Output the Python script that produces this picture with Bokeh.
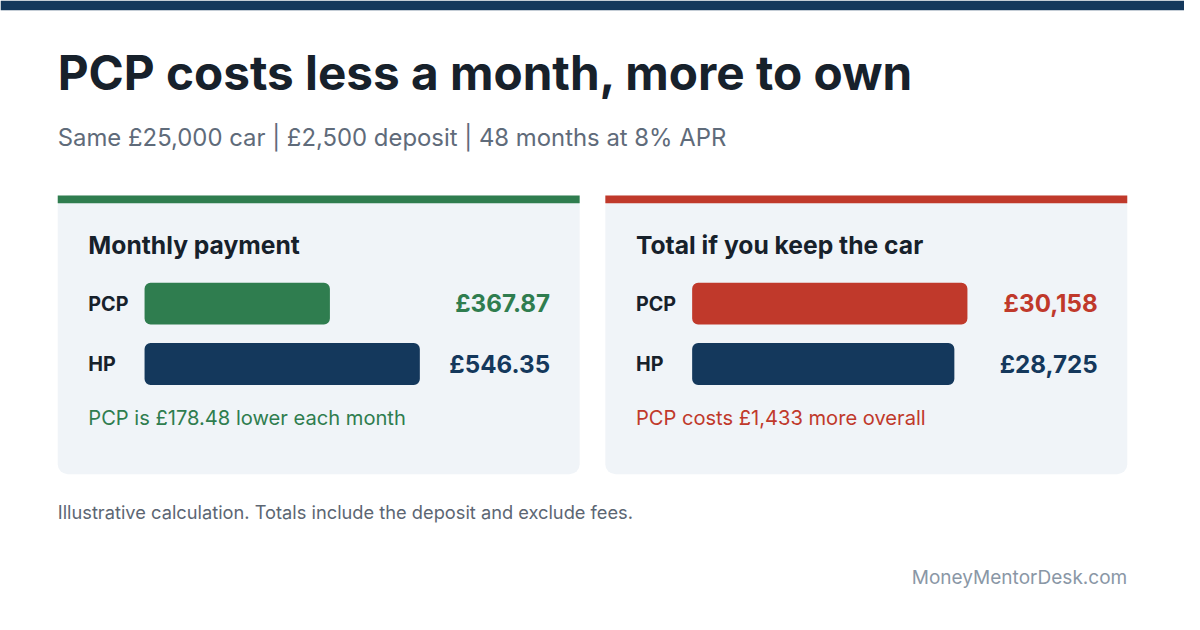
from bokeh.plotting import figure
from bokeh.models import Range1d
from bokeh.core.properties import value
from bokeh.embed import file_html
from bokeh.resources import INLINE

# ---- data ----
title = "PCP costs less a month, more to own"
subtitle = "Same £25,000 car | £2,500 deposit | 48 months at 8% APR"
panel_titles = ["Monthly payment", "Total if you keep the car"]
categories = ["PCP", "HP"]
monthly = [367.87, 546.35]
totals = [30158, 28725]
monthly_labels = ["£367.87", "£546.35"]
total_labels = ["£30,158", "£28,725"]
notes = ["PCP is £178.48 lower each month", "PCP costs £1,433 more overall"]
footnote = "Illustrative calculation. Totals include the deposit and exclude fees."
brand = "MoneyMentorDesk.com"

# ---- style ----
FONT = value("Inter")
NAVY = "#14385c"
GREEN = "#2f7d4f"
RED = "#c0392b"
PANEL_BG = "#f0f4f8"
INK = "#17212b"
SUB = "#5f6b7a"
FOOT = "#5c6673"
BRAND = "#8a97a6"

W, H = 1184, 614
S = W / 1200.0


def fs(px):
    return "%.2fpx" % (px * S)


p = figure(width=W, height=H, output_backend="svg", toolbar_location=None,
           x_range=Range1d(0, 1200), y_range=Range1d(630, 0),
           min_border=0, outline_line_color=None, background_fill_color="white",
           border_fill_color="white")
p.axis.visible = False
p.grid.visible = False

# top band
p.quad(left=0, right=1200, top=0, bottom=10, fill_color=NAVY, line_color=None)

# title + subtitle
p.text(x=[58], y=[74], text=[title], text_font=FONT, text_font_size=fs(48.3),
       text_font_style="bold", text_color=INK, text_baseline="middle")
p.text(x=[58], y=[141], text=[subtitle], text_font=FONT, text_font_size=fs(24.2),
       text_color=SUB, text_baseline="middle")

# panel bar scales via extra ranges (value 0 at px bar_x0, max value at bar_x0+279)
BAR_W = 279
panels = [
    dict(x0=58, x1=587, accent=GREEN, vals=monthly, labels=monthly_labels,
         colors=[GREEN, NAVY], note_color=GREEN, name="m"),
    dict(x0=613, x1=1142, accent=RED, vals=totals, labels=total_labels,
         colors=[RED, NAVY], note_color=RED, name="t"),
]
row_y = [311, 373]
for i, pn in enumerate(panels):
    x0, x1 = pn["x0"], pn["x1"]
    p.quad(left=x0, right=x1, top=200, bottom=486, fill_color=PANEL_BG,
           line_color=None, border_radius=10)
    p.quad(left=x0, right=x1, top=200, bottom=208, fill_color=pn["accent"],
           line_color=None)
    tx = x0 + 31
    p.text(x=[tx], y=[251], text=[panel_titles[i]], text_font=FONT,
           text_font_size=fs(25), text_font_style="bold", text_color=INK,
           text_baseline="middle")
    bx0 = x0 + 88
    vmax = max(pn["vals"])
    k = BAR_W / vmax
    rname = pn["name"]
    p.extra_x_ranges[rname] = Range1d((0 - bx0) / k, (1200 - bx0) / k)
    p.hbar(y=row_y, left=0, right=pn["vals"], height=43, fill_color=pn["colors"],
           line_color=None, border_radius=6, x_range_name=rname)
    p.text(x=[tx, tx], y=row_y, text=categories, text_font=FONT,
           text_font_size=fs(20), text_font_style="bold", text_color=INK,
           text_baseline="middle")
    p.text(x=[x1 - 30, x1 - 30], y=row_y, text=pn["labels"], text_font=FONT,
           text_font_size=fs(24.5), text_font_style="bold",
           text_color=[pn["colors"][0], NAVY], text_align="right",
           text_baseline="middle")
    p.text(x=[tx], y=[428], text=[notes[i]], text_font=FONT,
           text_font_size=fs(20.4), text_color=pn["note_color"],
           text_baseline="middle")

p.text(x=[58], y=[525], text=[footnote], text_font=FONT, text_font_size=fs(18.5),
       text_color=FOOT, text_baseline="middle")
p.text(x=[1142], y=[592], text=[brand], text_font=FONT, text_font_size=fs(19.3),
       text_color=BRAND, text_align="right", text_baseline="middle")

open("out.html", "w").write(file_html(p, INLINE))
